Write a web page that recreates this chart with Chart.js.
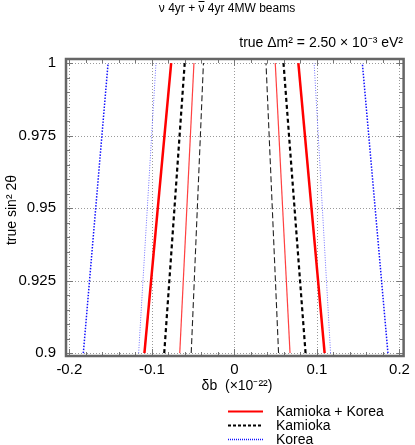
<!DOCTYPE html>
<html><head><meta charset="utf-8">
<script src="https://cdn.jsdelivr.net/npm/chart.js@4/dist/chart.umd.min.js"></script>
<style>html,body{margin:0;padding:0;background:#fff;}#wrap{width:415px;height:445px;position:relative;}</style>
</head><body><div id="wrap"><canvas id="c" width="415" height="445"></canvas></div>
<script>
// ---- data (x = delta b [1e-22], at true sin^2 2theta = 0.9 and 1.0) ----
const sin2theta = [0.9, 1.0];
const kamKorOuterL = [-0.109, -0.0766];
const kamKorOuterR = [0.1093, 0.0775];
const kamKorInnerL = [-0.0662, -0.049];
const kamKorInnerR = [0.0674, 0.0495];
const kamOuterL = [-0.085, -0.0602];
const kamOuterR = [0.0862, 0.0595];
const kamInnerL = [-0.0523, -0.0375];
const kamInnerR = [0.0535, 0.0383];
const korOuterL = [-0.183, -0.153];
const korOuterR = [0.186, 0.155];
const korInnerL = [-0.116, -0.095];
const korInnerR = [0.1165, 0.0966];
const xTicks = [-0.2, -0.1, 0, 0.1, 0.2];
const xTickLabels = ['-0.2', '-0.1', '0', '0.1', '0.2'];
const yTicks = [0.9, 0.925, 0.95, 0.975, 1];
const yTickLabels = ['0.9', '0.925', '0.95', '0.975', '1'];
const legendLabels = ['Kamioka + Korea', 'Kamioka', 'Korea'];

const FONT = '"Liberation Sans", Arial, Helvetica, sans-serif';

function pts(xs) { return xs.map((x, i) => ({ x: x, y: sin2theta[i] })); }
function ds(xs, color, width, dash) {
  return { data: pts(xs), borderColor: color, borderWidth: width, borderDash: dash,
    showLine: true, pointRadius: 0, fill: false, tension: 0 };
}
const RED = '#ff0000', RED2 = '#ff4040', BLK = '#000000', BLK2 = '#222222', BLU = '#1010ff', BLU2 = '#7070ff';
const datasets = [
  ds(korOuterL, BLU, 1.5, [1.5, 1.5]), ds(korOuterR, BLU, 1.5, [1.5, 1.5]),
  ds(korInnerL, BLU2, 1, [1, 1.5]), ds(korInnerR, BLU2, 1, [1, 1.5]),
  ds(kamOuterL, BLK, 2.2, [4, 3]), ds(kamOuterR, BLK, 2.2, [4, 3]),
  ds(kamInnerL, BLK2, 1.1, [6, 3]), ds(kamInnerR, BLK2, 1.1, [6, 3]),
  ds(kamKorOuterL, RED, 2.5, []), ds(kamKorOuterR, RED, 2.5, []),
  ds(kamKorInnerL, RED2, 1.2, []), ds(kamKorInnerR, RED2, 1.2, [])
];

const decor = {
  id: 'decor',
  beforeDatasetsDraw(chart) {
    const ctx = chart.ctx, a = chart.chartArea, xs = chart.scales.x, ys = chart.scales.y;
    ctx.save();
    // grid
    ctx.strokeStyle = '#9a9a9a'; ctx.lineWidth = 1; ctx.setLineDash([1, 2]);
    xTicks.forEach(v => { const p = Math.round(xs.getPixelForValue(v)) + 0.5;
      ctx.beginPath(); ctx.moveTo(p, a.top); ctx.lineTo(p, a.bottom); ctx.stroke(); });
    yTicks.forEach(v => { const p = Math.round(ys.getPixelForValue(v)) + 0.5;
      ctx.beginPath(); ctx.moveTo(a.left, p); ctx.lineTo(a.right, p); ctx.stroke(); });
    ctx.setLineDash([]);
    // minor / major ticks
    ctx.strokeStyle = '#777'; ctx.lineWidth = 1;
    for (let i = -10; i <= 10; i++) { const v = i * 0.02; const p = Math.round(xs.getPixelForValue(v)) + 0.5;
      const L = (i % 5 === 0) ? 7 : 4;
      ctx.beginPath(); ctx.moveTo(p, a.bottom); ctx.lineTo(p, a.bottom - L); ctx.moveTo(p, a.top); ctx.lineTo(p, a.top + L); ctx.stroke(); }
    for (let i = 0; i <= 20; i++) { const v = 0.9 + i * 0.005; const p = Math.round(ys.getPixelForValue(v)) + 0.5;
      const L = (i % 5 === 0) ? 7 : 4;
      ctx.beginPath(); ctx.moveTo(a.left, p); ctx.lineTo(a.left + L, p); ctx.moveTo(a.right, p); ctx.lineTo(a.right - L, p); ctx.stroke(); }
    ctx.restore();
  },
  afterDraw(chart) {
    const ctx = chart.ctx, a = chart.chartArea;
    ctx.save();
    // frame
    ctx.strokeStyle = '#666'; ctx.lineWidth = 2.5;
    ctx.strokeRect(a.left, a.top, a.right - a.left, a.bottom - a.top);
    ctx.fillStyle = '#000'; ctx.textBaseline = 'alphabetic';
    // title with overbar on second nu
    ctx.font = '12px ' + FONT; ctx.textAlign = 'left';
    const title = '\u03bd 4yr + \u03bd 4yr 4MW beams';
    const tw = ctx.measureText(title).width;
    const tx = 227 - tw / 2;
    ctx.fillText(title, tx, 12);
    const pre = ctx.measureText('\u03bd 4yr + ').width;
    const nuW = ctx.measureText('\u03bd').width;
    ctx.strokeStyle = '#000'; ctx.lineWidth = 1;
    ctx.beginPath(); ctx.moveTo(tx + pre, 1.5); ctx.lineTo(tx + pre + nuW, 1.5); ctx.stroke();
    // true dm2
    ctx.font = '14px ' + FONT; ctx.textAlign = 'right';
    ctx.fillText('true \u0394m\u00b2 = 2.50 \u00d7 10\u207b\u00b3 eV\u00b2', 403, 47);
    // x title
    ctx.font = '14px ' + FONT; ctx.textAlign = 'center';
    ctx.fillText('\u03b4b  (\u00d710\u207b\u00b2\u00b2)', 237, 390);
    // y title
    ctx.save(); ctx.translate(16, 210); ctx.rotate(-Math.PI / 2);
    ctx.fillText('true sin\u00b2 2\u03b8', 0, 0); ctx.restore();
    // legend
    const rows = [411, 425, 439];
    const styles = [[RED, 2, []], [BLK, 2, [3, 2]], [BLU, 1.5, [1, 1]]];
    ctx.font = '14px ' + FONT; ctx.textAlign = 'left'; ctx.textBaseline = 'middle';
    legendLabels.forEach((t, i) => {
      ctx.strokeStyle = styles[i][0]; ctx.lineWidth = styles[i][1]; ctx.setLineDash(styles[i][2]);
      ctx.beginPath(); ctx.moveTo(228, rows[i] + 0.5); ctx.lineTo(263, rows[i] + 0.5); ctx.stroke();
      ctx.setLineDash([]);
      ctx.fillText(t, 276, rows[i] + 1);
    });
    ctx.restore();
  }
};

new Chart(document.getElementById('c'), {
  type: 'scatter',
  data: { datasets },
  options: {
    responsive: false, animation: false, events: [],
    layout: { padding: { top: 59, right: 7, left: 0, bottom: 0 } },
    plugins: { legend: { display: false }, tooltip: { enabled: false }, title: { display: false } },
    scales: {
      x: { type: 'linear', min: -0.204, max: 0.205,
        grid: { display: false, drawTicks: false }, border: { display: false },
        afterBuildTicks: s => { s.ticks = xTicks.map(v => ({ value: v })); },
        afterFit: s => { s.height = 89; },
        ticks: { padding: 5, color: '#000', font: { family: FONT, size: 15 }, maxRotation: 0,
          callback: (v) => xTickLabels[xTicks.findIndex(t => Math.abs(t - v) < 1e-9)] } },
      y: { type: 'linear', min: 0.899, max: 1.0014,
        grid: { display: false, drawTicks: false }, border: { display: false },
        afterBuildTicks: s => { s.ticks = yTicks.map(v => ({ value: v })); },
        afterFit: s => { s.width = 66; },
        ticks: { padding: 10, color: '#000', font: { family: FONT, size: 15 },
          callback: (v) => yTickLabels[yTicks.findIndex(t => Math.abs(t - v) < 1e-9)] } }
    }
  },
  plugins: [decor]
});
</script></body></html>
